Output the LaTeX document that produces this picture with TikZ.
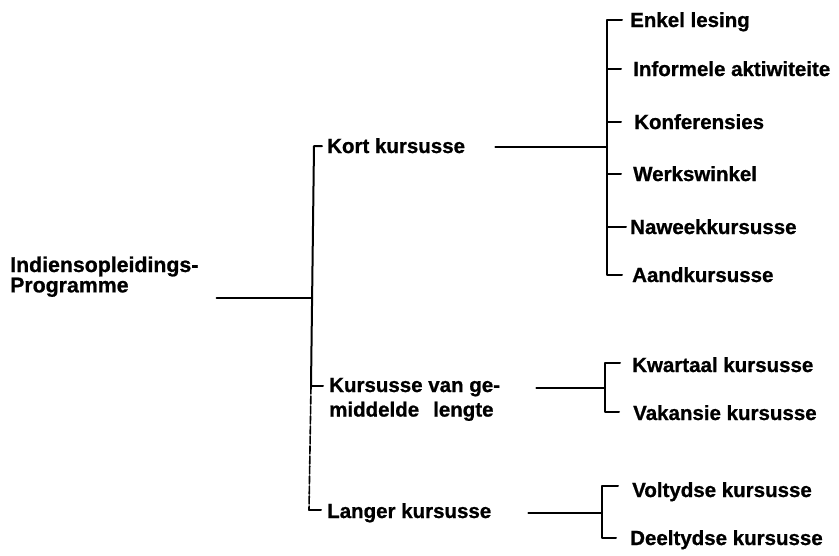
\documentclass[tikz,border=0pt]{standalone}
\usepackage{fontspec}
\setmainfont{Liberation Sans}
% heavier face for the labels
\newfontfamily\heavyface[FakeBold=0.9]{Liberation Sans Bold}
\usetikzlibrary{calc}
\begin{document}
\begin{tikzpicture}[x=1pt,y=-1pt,
  lbl/.style={inner sep=0pt, anchor=base west,
    font=\heavyface\fontsize{20.5}{19}\selectfont},
  link/.style={line width=2pt, line cap=round, line join=round},
  rail/.style={link, line width=1.6pt, dash pattern=on 8pt off 2pt}]
\useasboundingbox (0,0) rectangle (839,555);

% --- labels -------------------------------------------------------
\node[lbl, font=\heavyface\fontsize{21.3}{19}\selectfont] (root) at (10,272)
  {\begin{tabular}[t]{@{}l@{}}Indiensopleidings-\\Programme\end{tabular}};
\node[lbl] (kort) at (327,153) {Kort kursusse};
\node[lbl] (gem)  at (329,392)
  {\begin{tabular}[t]{@{}l@{}}Kursusse van ge-\\[4pt]middelde\hspace{14pt}lengte\end{tabular}};
\node[lbl] (lang) at (327,518) {Langer kursusse};

\node[lbl] (enkel) at (630,27)  {Enkel lesing};
\node[lbl] (info)  at (633,76)  {Informele aktiwiteite};
\node[lbl] (konf)  at (634,129) {Konferensies};
\node[lbl] (werk)  at (633,181) {Werkswinkel};
\node[lbl] (nawk)  at (630,234) {Naweekkursusse};
\node[lbl] (aand)  at (632,282) {Aandkursusse};

\node[lbl] (kwar) at (632,372) {Kwartaal kursusse};
\node[lbl] (vak)  at (633,420) {Vakansie kursusse};

\node[lbl] (vol)  at (632,497) {Voltydse kursusse};
\node[lbl] (deel) at (630,545) {Deeltydse kursusse};

% --- main spine (slightly slanted) --------------------------------
\coordinate (s1) at (314,146);
\coordinate (s0) at (312,298);
\coordinate (s2) at (311,386);
\coordinate (s3) at (309,510);

\coordinate (tk) at ([xshift=-5pt,yshift=7pt]kort.base west);
\coordinate (tg) at ([xshift=-6pt,yshift=6pt]gem.base west);
\coordinate (tl) at ([xshift=-6pt,yshift=8pt]lang.base west);

\draw[link] ([xshift=18pt,yshift=-26pt]root.base east) -- (s0);
\draw[link] (tk) -- (s1) -- (s2);
\draw[rail] (s2) -- (s3);
\draw[link] (s2) -- (tg);
\draw[link] (s3) -- (tl);

% --- branch: Kort kursusse ----------------------------------------
\coordinate (k0) at ([xshift=30pt,yshift=6pt]kort.base east);
\coordinate (b1) at (607,0);
\draw[link] (k0) -- (k0 -| b1);
\foreach \n/\d in {enkel/8pt, info/12pt, konf/13pt, werk/12pt, nawk/4pt, aand/10pt}
  \coordinate (t-\n) at ([xshift=-\d,yshift=7pt]\n.base west);
\draw[link] (t-enkel) -- (t-enkel -| b1) -- (t-aand -| b1) -- (t-aand);
\foreach \n in {info, konf, werk, nawk}
  \draw[link] (t-\n -| b1) -- (t-\n);

% --- branch: Kursusse van gemiddelde lengte -----------------------
\coordinate (g0) at ([xshift=36pt,yshift=4pt]gem.base east);
\coordinate (b2) at (605,0);
\draw[link] (g0) -- (g0 -| b2);
\coordinate (t-kwar) at ([xshift=-12pt,yshift=9pt]kwar.base west);
\coordinate (t-vak)  at ([xshift=-14pt,yshift=8pt]vak.base west);
\draw[link] (t-kwar) -- (t-kwar -| b2) -- (t-vak -| b2) -- (t-vak);

% --- branch: Langer kursusse --------------------------------------
\coordinate (l0) at ([xshift=37pt,yshift=5pt]lang.base east);
\coordinate (b3) at (602,0);
\draw[link] (l0) -- (l0 -| b3);
\coordinate (t-vol)  at ([xshift=-14pt,yshift=11pt]vol.base west);
\coordinate (t-deel) at ([xshift=-14pt,yshift=7pt]deel.base west);
\draw[link] (t-vol) -- (t-vol -| b3) -- (t-deel -| b3) -- (t-deel);
\end{tikzpicture}
\end{document}
